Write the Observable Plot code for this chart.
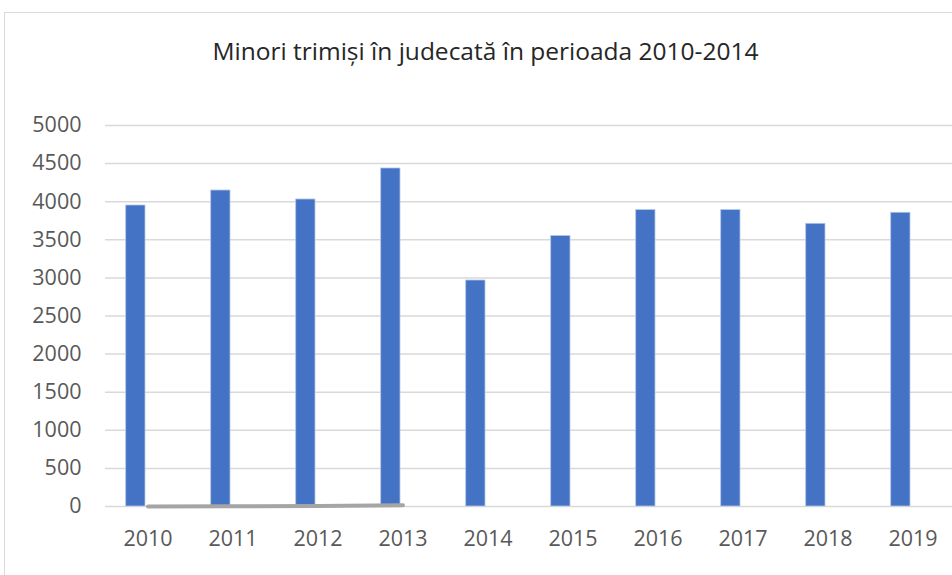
<!DOCTYPE html>
<html>
<head>
<meta charset="utf-8">
<script src="https://cdn.jsdelivr.net/npm/d3@7"></script>
<script src="https://cdn.jsdelivr.net/npm/@observablehq/plot@0.6"></script>
<style>
  html, body { margin: 0; padding: 0; background: #fff; overflow: hidden; }
  #wrap { position: relative; width: 952px; height: 575px; overflow: hidden; }
  #border { position: absolute; left: 4px; top: 12px; width: 1100px; height: 1100px; border: 1.5px solid #d9d9d9; box-sizing: border-box; }
  #chart { position: absolute; left: 0; top: 0; }
</style>
</head>
<body>
<div id="wrap"><div id="border"></div><div id="chart"></div></div>
<script>
const title = "Minori trimiși în judecată în perioada 2010-2014";
const years = ["2010", "2011", "2012", "2013", "2014", "2015", "2016", "2017", "2018", "2019"];
const minori = [3950, 4147, 4029, 4436, 2966, 3550, 3890, 3890, 3710, 3855];
const seria2Years = ["2010", "2011", "2012", "2013"];
const seria2 = [0, 3, 7, 15];
const yTicks = [0, 500, 1000, 1500, 2000, 2500, 3000, 3500, 4000, 4500, 5000];

const bars = years.map((y, i) => ({year: y, value: minori[i]}));
const line = seria2Years.map((y, i) => ({year: y, value: seria2[i]}));

const chart = Plot.plot({
  width: 952,
  height: 575,
  marginLeft: 105,
  marginRight: 0,
  marginTop: 125,
  marginBottom: 69,
  style: {fontFamily: "'Open Sans', sans-serif", fontSize: "21.5px", color: "#595959", background: "transparent", overflow: "visible"},
  x: {type: "band", domain: years, range: [101, 958], padding: 0, label: null},
  y: {domain: [0, 5000], label: null},
  marks: [
    Plot.ruleY(yTicks, {stroke: "#d9d9d9", strokeWidth: 1.5}),
    Plot.barY(bars, {x: "year", y: "value", fill: "#4472c4", stroke: "#b4c7e7", strokeWidth: 0.8, insetLeft: 20.7, insetRight: 45}),
    Plot.lineY(line, {x: "year", y: "value", stroke: "#a5a5a5", strokeWidth: 4, strokeLinecap: "round"}),
    Plot.axisY({ticks: yTicks, tickSize: 0, tickPadding: 24, fontSize: 21.5, label: null, tickFormat: d => String(d)}),
    Plot.axisX({tickSize: 0, tickPadding: 24.5, fontSize: 21.5, label: null}),
    Plot.text([title], {frameAnchor: "top", dx: -43.5, dy: -83, fontSize: 24.5, fill: "#262626", fontFamily: "'Open Sans', sans-serif"})
  ]
});
document.getElementById("chart").appendChild(chart);
</script>
</body>
</html>
